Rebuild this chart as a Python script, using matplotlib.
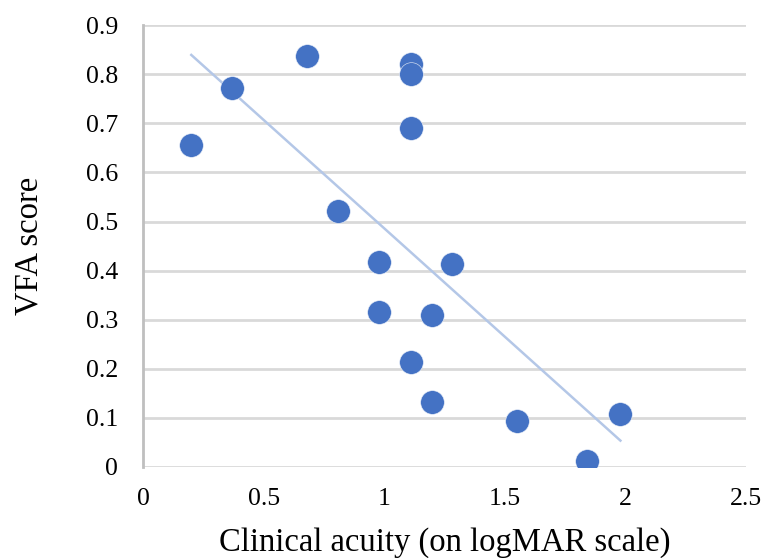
import matplotlib
matplotlib.use("Agg")
import matplotlib.pyplot as plt
import numpy as np

acuity = [0.20, 0.37, 0.68, 1.11, 1.11, 1.11, 0.81, 0.98, 1.28, 0.98, 1.20, 1.11, 1.20, 1.55, 1.98, 1.84]
vfa = [0.657, 0.773, 0.837, 0.822, 0.800, 0.690, 0.522, 0.417, 0.413, 0.315, 0.310, 0.213, 0.131, 0.093, 0.107, 0.012]
x_ticks = [0, 0.5, 1, 1.5, 2, 2.5]
x_tick_labels = ["0", "0.5", "1", "1.5", "2", "2.5"]
y_ticks = [0, 0.1, 0.2, 0.3, 0.4, 0.5, 0.6, 0.7, 0.8, 0.9]
y_tick_labels = ["0", "0.1", "0.2", "0.3", "0.4", "0.5", "0.6", "0.7", "0.8", "0.9"]

plt.rcParams['font.family'] = ['Liberation Serif', 'DejaVu Serif']

fig = plt.figure(figsize=(7.61, 5.58), dpi=100)
ax = fig.add_axes([0.188, 0.1636, 0.792, 0.791])

ax.set_xlim(0, 2.5)
ax.set_ylim(0, 0.9)
ax.set_xticks(x_ticks)
ax.set_xticklabels(x_tick_labels)
ax.set_yticks(y_ticks)
ax.set_yticklabels(y_tick_labels)
ax.grid(axis='y', color='#d9d9d9', linewidth=2)
ax.set_axisbelow(True)
for s in ['top', 'right', 'bottom']:
    ax.spines[s].set_visible(False)
ax.spines['left'].set_color('#bfbfbf')
ax.spines['left'].set_linewidth(2)
ax.tick_params(axis='both', length=0, labelsize=18.5)
ax.tick_params(axis='y', pad=18)
ax.tick_params(axis='x', pad=15)

# trendline (least-squares)
xa = np.array(acuity)
ya = np.array(vfa)
m, b = np.polyfit(xa, ya, 1)
xs = np.array([xa.min(), xa.max()])
ax.plot(xs, m * xs + b, color='#b4c7e7', linewidth=1.8, zorder=2)

ax.scatter(acuity, vfa, s=290, color='#4472c4', edgecolors='#e8eef8', linewidths=0.4, zorder=3)

ax.set_xlabel("Clinical acuity (on logMAR scale)", fontsize=23.5, labelpad=13)
ax.set_ylabel("VFA score", fontsize=23.5, labelpad=30)

fig.savefig("out.png", dpi=100)
